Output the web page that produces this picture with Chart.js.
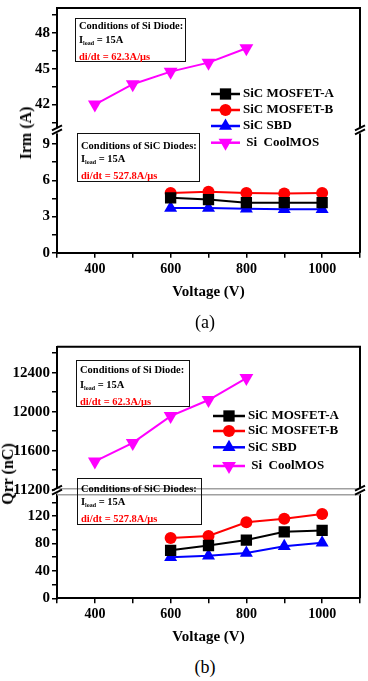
<!DOCTYPE html>
<html>
<head>
<meta charset="utf-8">
<title>Irm / Qrr vs Voltage</title>
<script src="https://cdn.jsdelivr.net/npm/chart.js@4.4.1/dist/chart.umd.min.js"></script>
<style>
  body { margin: 0; background: #fff; font-family: "Liberation Serif", "Times New Roman", serif; }
  #pagina { position: relative; width: 368px; height: 681px; overflow: hidden; }
  canvas { position: absolute; left: 0; }
  .nota { position: absolute; border: 1.5px solid #111; font-weight: bold; font-size: 10.5px; color: #000; padding-left: 3px; white-space: nowrap; box-sizing: border-box; }
  .nota sub { font-size: 6px; vertical-align: -2px; }
  .rojo { color: #f00; }
  .ytitulo { position: absolute; font-weight: bold; font-size: 16px; white-space: nowrap; transform: translate(-50%, -50%) rotate(-90deg); }
  .rotulo { position: absolute; font-size: 18px; transform: translate(-50%, -50%); }
</style>
</head>
<body>
<div id="pagina">
  <canvas id="graficoA" width="368" height="301" style="top:0"></canvas>
  <canvas id="graficoB" width="368" height="316" style="top:330px"></canvas>

  <div class="ytitulo" style="left:26px;top:133px">Irm (A)</div>
  <div class="ytitulo" style="left:8px;top:474px">Qrr (nC)</div>

  <div class="nota" style="left:75px;top:18px;width:111px;height:44px;line-height:14px;padding-top:0">
    Conditions of Si Diode:<br>I<sub>load</sub> = 15A<br><span class="rojo">di/dt = 62.3A/μs</span>
  </div>
  <div class="nota" style="left:77px;top:133px;width:123px;height:49px;line-height:13px;padding-top:5px">
    Conditions of SiC Diodes:<br>I<sub>load</sub> = 15A<br><span class="rojo">di/dt = 527.8A/μs</span>
  </div>
  <div class="nota" style="left:76px;top:360px;width:114px;height:47px;line-height:14.5px;padding-top:2px">
    Conditions of Si Diode:<br>I<sub>load</sub> = 15A<br><span class="rojo">di/dt = 62.3A/μs</span>
  </div>
  <div class="nota" style="left:77px;top:478px;width:125px;height:47px;line-height:13px;padding-top:3px">
    Conditions of SiC Diodes:<br>I<sub>load</sub> = 15A<br><span class="rojo">di/dt = 527.8A/μs</span>
  </div>

  <div class="rotulo" style="left:205px;top:322px">(a)</div>
  <div class="rotulo" style="left:205px;top:667px">(b)</div>
</div>

<script>
// Datos
const voltSiC = [600, 700, 800, 900, 1000];
const voltSi = [400, 500, 600, 700, 800];
const nombres = ["SiC MOSFET-A", "SiC MOSFET-B", "SiC SBD", " Si  CoolMOS"];

const irmMosA = [4.55, 4.4, 4.15, 4.15, 4.15];
const irmMosB = [4.95, 5.05, 4.95, 4.9, 4.95];
const irmSbd = [3.7, 3.7, 3.65, 3.6, 3.6];
const irmCool = [42.0, 43.7, 44.75, 45.5, 46.7];

const qrrMosA = [70, 77, 85, 97, 99];
const qrrMosB = [88, 91, 111, 116, 123];
const qrrSbd = [60, 62, 66, 76, 81];
const qrrCool = [11490, 11680, 11955, 12120, 12345];

const xEtiquetas = [400, 600, 800, 1000];
const irmBajo = [0, 3, 6, 9];
const irmAlto = [42, 45, 48];
const qrrBajo = [0, 40, 80, 120];
const qrrAlto = [11200, 11600, 12000, 12400];

const colores = ["#000000", "#ff0000", "#0000ff", "#ff00ff"];
const estilos = [
    { pointStyle: "rect", r: 8, rot: 0 },
    { pointStyle: "circle", r: 6, rot: 0 },
    { pointStyle: "triangle", r: 7.5, rot: 0 },
    { pointStyle: "triangle", r: 8, rot: 180 }
];
const familia = '"Liberation Serif", "Times New Roman", serif';

function serie(i, xs, ys, eje) {
    return {
        label: nombres[i],
        data: xs.map((x, k) => ({ x: x, y: ys[k] })),
        yAxisID: eje,
        borderColor: colores[i],
        backgroundColor: colores[i],
        borderWidth: 2,
        pointStyle: estilos[i].pointStyle,
        pointRadius: estilos[i].r,
        pointRotation: estilos[i].rot,
        pointBorderWidth: 0,
        tension: 0
    };
}

// marcas menores a mitad de paso
function conMenores(marcas, min, max) {
    const paso = (marcas[1] - marcas[0]) / 2;
    const lista = [];
    for (let v = marcas[0] - 4 * paso; v <= max + 1e-9; v += paso) {
        if (v >= min - 1e-9) lista.push(Math.round(v * 1000) / 1000);
    }
    return lista;
}

function ejeY(min, max, marcas, peso) {
    const todas = conMenores(marcas, min, max);
    return {
        type: "linear", position: "left", stack: "izq", stackWeight: peso,
        min: min, max: max,
        afterBuildTicks: eje => { eje.ticks = todas.map(v => ({ value: v })); },
        afterFit: eje => { eje.width = 57; eje.paddingTop = 0; eje.paddingBottom = 0; },
        ticks: {
            callback: v => marcas.includes(v) ? String(v) : "",
            font: { family: familia, size: 15, weight: "bold" },
            color: "#000", padding: 2, autoSkip: false
        },
        grid: { drawOnChartArea: false, tickLength: 5, color: "#000", lineWidth: 1.5 },
        border: { color: "#000", width: 2 }
    };
}

function ejeX(altoX) {
    const todas = [];
    for (let v = 300; v <= 1100; v += 100) todas.push(v);
    return {
        type: "linear", min: 300, max: 1100,
        afterBuildTicks: eje => { eje.ticks = todas.map(v => ({ value: v })); },
        afterFit: eje => { eje.height = altoX; eje.paddingLeft = 0; eje.paddingRight = 0; },
        ticks: {
            callback: v => xEtiquetas.includes(v) ? String(v) : "",
            font: { family: familia, size: 14, weight: "bold" },
            color: "#000", padding: 3, maxRotation: 0, autoSkip: false
        },
        grid: { drawOnChartArea: false, tickLength: 5, color: "#000", lineWidth: 1.5 },
        border: { color: "#000", width: 2 },
        title: {
            display: true, text: "Voltage (V)", color: "#000", padding: 0,
            font: { family: familia, size: 15, weight: "bold" }
        }
    };
}

const marcoPlugin = {
    id: "marco",
    afterDraw(chart, args, op) {
        const ctx = chart.ctx;
        const a = chart.chartArea;
        const yb = chart.scales.yAlto.bottom;
        ctx.save();
        ctx.strokeStyle = "#000";
        ctx.lineWidth = 2;
        ctx.beginPath();
        ctx.moveTo(a.left, a.top);
        ctx.lineTo(a.right, a.top);
        ctx.lineTo(a.right, a.bottom);
        ctx.stroke();

        if (op.lineasGris) {
            ctx.strokeStyle = "#a0a0a0";
            ctx.lineWidth = 1.5;
            ctx.beginPath();
            ctx.moveTo(a.left, yb - 2); ctx.lineTo(a.right, yb - 2);
            ctx.moveTo(a.left, yb + 4); ctx.lineTo(a.right, yb + 4);
            ctx.stroke();
        }

        //Marcas de corte
        ctx.strokeStyle = "#000";
        ctx.lineWidth = 2;
        [a.left, a.right].forEach(x => {
            ctx.fillStyle = "#fff";
            ctx.fillRect(x - 2, yb - 2, 4, 5);
            ctx.beginPath();
            ctx.moveTo(x - 5, yb); ctx.lineTo(x + 5, yb - 5);
            ctx.moveTo(x - 5, yb + 4); ctx.lineTo(x + 5, yb - 1);
            ctx.stroke();
        });

        //Leyenda
        ctx.font = "bold 13px " + familia;
        ctx.textBaseline = "middle";
        ctx.textAlign = "left";
        chart.data.datasets.forEach((d, i) => {
            const y = op.filas[i];
            ctx.strokeStyle = d.borderColor;
            ctx.lineWidth = 2.5;
            ctx.beginPath();
            ctx.moveTo(op.x0, y);
            ctx.lineTo(op.x1, y);
            ctx.stroke();
            ctx.fillStyle = d.backgroundColor;
            Chart.helpers.drawPoint(ctx, {
                pointStyle: d.pointStyle, radius: d.pointRadius,
                rotation: d.pointRotation, borderWidth: 0
            }, (op.x0 + op.x1) / 2, y);
            ctx.fillStyle = "#000";
            ctx.fillText(d.label, op.xt, y);
        });
        ctx.restore();
    }
};

function crearGrafico(id, datasets, escalas, padding, opMarco) {
    return new Chart(document.getElementById(id).getContext("2d"), {
        type: "line",
        data: { datasets: datasets },
        options: {
            responsive: false,
            animation: false,
            devicePixelRatio: 1,
            layout: { padding: padding },
            plugins: { legend: { display: false }, tooltip: { enabled: false }, marco: opMarco },
            scales: escalas
        },
        plugins: [marcoPlugin]
    });
}

crearGrafico("graficoA", [
    serie(0, voltSiC, irmMosA, "yBajo"),
    serie(1, voltSiC, irmMosB, "yBajo"),
    serie(2, voltSiC, irmSbd, "yBajo"),
    serie(3, voltSi, irmCool, "yAlto")
], {
    x: ejeX(48.3),
    yBajo: ejeY(0, 10.14, irmBajo, 1),
    yAlto: ejeY(39.84, 50.07, irmAlto, 1)
}, { top: 6, right: 5, left: 0, bottom: 0 },
{ filas: [94, 110, 126, 142.7], x0: 211, x1: 240, xt: 243, lineasGris: false });

crearGrafico("graficoB", [
    serie(0, voltSiC, qrrMosA, "yBajo"),
    serie(1, voltSiC, qrrMosB, "yBajo"),
    serie(2, voltSiC, qrrSbd, "yBajo"),
    serie(3, voltSi, qrrCool, "yAlto")
], {
    x: ejeX(47.7),
    yBajo: ejeY(0, 157, qrrBajo, 107.6),
    yAlto: ejeY(11190, 12667, qrrAlto, 144)
}, { top: 16.7, right: 1, left: 0, bottom: 0 },
{ filas: [86, 101, 117.3, 136], x0: 213, x1: 245, xt: 248, lineasGris: true });
</script>
</body>
</html>
